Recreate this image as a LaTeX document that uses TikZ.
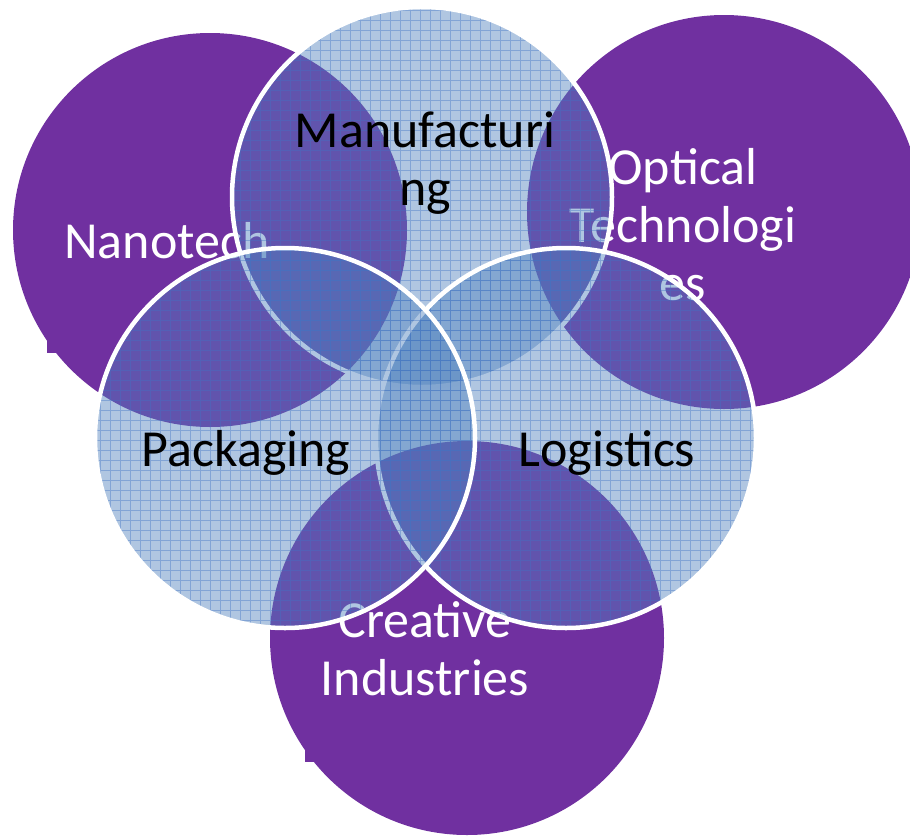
\documentclass[tikz,border=0pt]{standalone}
\usepackage{fontspec}
\setmainfont{Carlito}
\definecolor{vennpurple}{HTML}{7030A0}
\definecolor{vennblue}{HTML}{4F81BD}
\definecolor{gridblue}{HTML}{3F72C4}
\tikzset{
  lbl/.style={font=\fontsize{52}{58}\selectfont, align=center, inner sep=0pt, anchor=base},
  ring/.style={draw=white, line width=4.5pt},
}
\begin{document}
\begin{tikzpicture}[x=1pt,y=-1pt]
\useasboundingbox (0,0) rectangle (910,836);
\begin{scope}
\clip (0,0) rectangle (910,836);
\foreach \cx/\cy in {210/230, 724/212, 467/638} {
  \fill[vennpurple] (\cx,\cy) circle[radius=197pt];
}
\fill[vennpurple] (47,335) rectangle (60,353);
\fill[vennpurple] (305,745) rectangle (318,762);
\end{scope}
\node[lbl, text=white] (nano) at (167,258) {Nanotech};
\node[lbl, text=white] (optic) at (683,300) {Optical\\Technologi\\es};
\node[lbl, text=white] (creat) at (425,695) {Creative\\Industries};
\foreach \cx/\cy in {422/197, 566/438, 285/438} {
  \begin{scope}
    \clip (\cx,\cy) circle[radius=190pt];
    \fill[vennblue, opacity=.45] (\cx,\cy) circle[radius=190pt];
    \draw[gridblue, opacity=.4, line width=.9pt, step=10pt] (\cx-200,\cy-200) grid (\cx+200,\cy+200);
  \end{scope}
  \draw[ring] (\cx,\cy) circle[radius=190pt];
}
\node[lbl] (manuf) at (425,205) {Manufacturi\\ng};
\node[lbl] (pack) at (246,466) {Packaging};
\node[lbl] (logi) at (607,466) {Logistics};
\end{tikzpicture}
\end{document}
